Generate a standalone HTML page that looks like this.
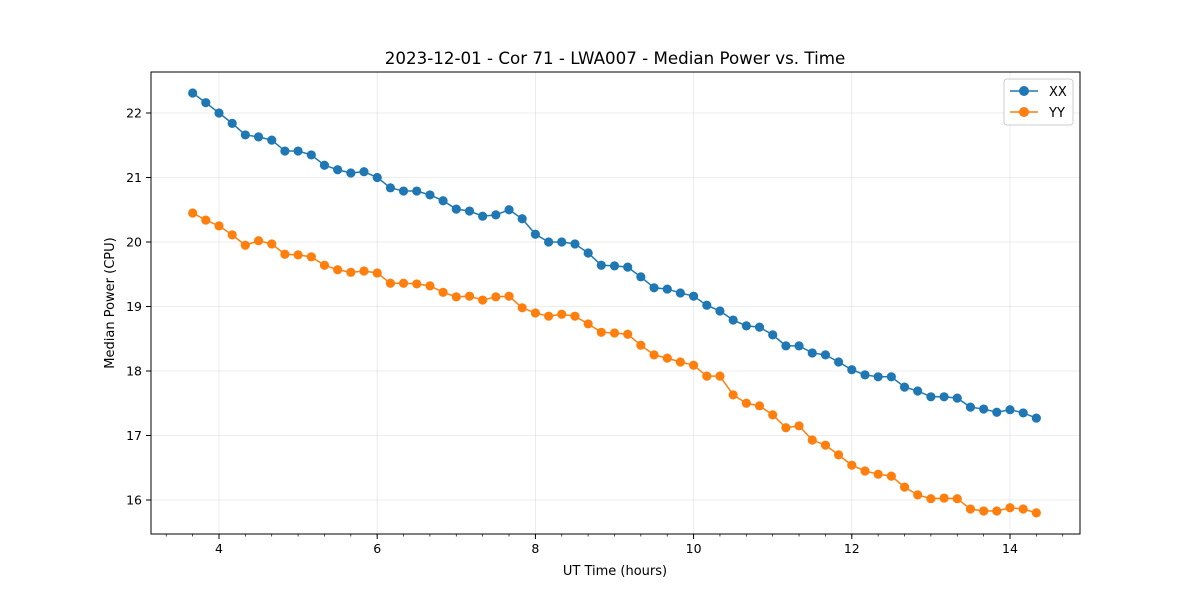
<!DOCTYPE html>
<html><head><meta charset="utf-8"><style>
body{margin:0;background:#fff;font-family:"Liberation Sans","DejaVu Sans",sans-serif}
svg text{font-family:"DejaVu Sans","Liberation Sans",sans-serif}
</style></head><body>
<svg id="chart" width="1200" height="600" viewBox="0 0 1200 600" xmlns="http://www.w3.org/2000/svg">
<rect width="1200" height="600" fill="#fff"/>
<g id="grid"></g>
<g id="axes"></g>
<g id="series"></g>
<rect x="151" y="72" width="929" height="462" fill="none" stroke="#000" stroke-width="1"/>
<text x="615" y="64" text-anchor="middle" font-size="16.7">2023-12-01 - Cor 71 - LWA007 - Median Power vs. Time</text>
<text x="615" y="575" text-anchor="middle" font-size="13">UT Time (hours)</text>
<text transform="translate(114,303) rotate(-90)" text-anchor="middle" font-size="13">Median Power (CPU)</text>
<g>
<rect x="1004" y="79" width="69" height="46" rx="3" fill="#fff" stroke="#ccc"/>
<g>
<line x1="1010" y1="91" x2="1038" y2="91" stroke="#1f77b4" stroke-width="1.5"/><circle cx="1024" cy="91" r="5" fill="#1f77b4"/>
<text x="1049" y="96" font-size="13">XX</text></g>
<g>
<line x1="1010" y1="112" x2="1038" y2="112" stroke="#ff7f0e" stroke-width="1.5"/><circle cx="1024" cy="112" r="5" fill="#ff7f0e"/>
<text x="1049" y="117" font-size="13">YY</text></g>
</g>
</svg>
<script>
const times=[3.667,3.833,4.0,4.167,4.333,4.5,4.667,4.833,5.0,5.167,5.333,5.5,5.667,5.833,6.0,6.167,6.333,6.5,6.667,6.833,7.0,7.167,7.333,7.5,7.667,7.833,8.0,8.167,8.333,8.5,8.667,8.833,9.0,9.167,9.333,9.5,9.667,9.833,10.0,10.167,10.333,10.5,10.667,10.833,11.0,11.167,11.333,11.5,11.667,11.833,12.0,12.167,12.333,12.5,12.667,12.833,13.0,13.167,13.333,13.5,13.667,13.833,14.0,14.167,14.333];
const xxValues=[22.31,22.16,22.0,21.84,21.66,21.63,21.58,21.41,21.41,21.35,21.19,21.12,21.07,21.09,21.0,20.84,20.79,20.79,20.73,20.64,20.51,20.48,20.40,20.42,20.50,20.36,20.12,20.0,20.0,19.97,19.83,19.64,19.63,19.61,19.46,19.29,19.27,19.21,19.16,19.02,18.93,18.79,18.70,18.68,18.56,18.39,18.39,18.28,18.25,18.14,18.02,17.94,17.91,17.91,17.75,17.69,17.60,17.60,17.58,17.44,17.41,17.36,17.40,17.35,17.27];
const yyValues=[20.45,20.34,20.25,20.11,19.95,20.02,19.97,19.81,19.80,19.77,19.64,19.57,19.53,19.55,19.52,19.36,19.36,19.35,19.32,19.22,19.15,19.16,19.10,19.15,19.16,18.98,18.90,18.85,18.88,18.85,18.73,18.60,18.59,18.57,18.40,18.25,18.20,18.14,18.09,17.92,17.92,17.63,17.50,17.46,17.32,17.12,17.15,16.93,16.85,16.70,16.54,16.45,16.40,16.37,16.20,16.08,16.02,16.03,16.02,15.86,15.83,15.83,15.88,15.86,15.80];
const xTicks=[4,6,8,10,12,14];
const yTicks=[16,17,18,19,20,21,22];
const NS="http://www.w3.org/2000/svg";
const X0=151,X1=1080,Y0=72,Y1=534;
function xs(v){return 219+(v-4)*79.1;}
function ys(v){return 113+(22-v)*64.5;}
function mk(tag,attrs,parent){const e=document.createElementNS(NS,tag);for(const k in attrs)e.setAttribute(k,attrs[k]);parent.appendChild(e);return e;}
const grid=document.getElementById('grid'),axes=document.getElementById('axes'),series=document.getElementById('series');
xTicks.forEach(t=>{const x=xs(t);
 const g=mk('line',{x1:x,x2:x,y1:Y0,y2:Y1,stroke:'#b0b0b0','stroke-opacity':0.3,'stroke-width':0.8},grid);
 
 
 const tk=mk('line',{x1:x,x2:x,y1:Y1,y2:Y1+5,stroke:'#000'},axes);
 
 
 const tx=mk('text',{x:x,y:Y1+19,'text-anchor':'middle','font-size':12.5},axes);tx.textContent=t;
 
 
});
for(let t=3.333;t<14.9;t+=1/3){const x=xs(t);if(x<X0||x>X1)continue;
 const m=mk('line',{x1:x,x2:x,y1:Y1,y2:Y1+2.5,stroke:'#000','stroke-width':0.7},axes);
 
 
}
yTicks.forEach(t=>{const y=ys(t);
 const g=mk('line',{x1:X0,x2:X1,y1:y,y2:y,stroke:'#b0b0b0','stroke-opacity':0.3,'stroke-width':0.8},grid);
 
 
 const tk=mk('line',{x1:X0-5,x2:X0,y1:y,y2:y,stroke:'#000'},axes);
 
 
 const tx=mk('text',{x:X0-9,y:y+4.5,'text-anchor':'end','font-size':12.5},axes);tx.textContent=t;
 
 
});
function drawSeries(vals,color,name){
 const pts=vals.map((v,i)=>xs(times[i])+','+ys(v)).join(' ');
 const pl=mk('polyline',{points:pts,fill:'none',stroke:color,'stroke-width':1.5},series);
 
 
 vals.forEach((v,i)=>{const c=mk('circle',{cx:xs(times[i]),cy:ys(v),r:4.6,fill:color},series);
  
  
 });
}
drawSeries(xxValues,'#1f77b4','xx');
drawSeries(yyValues,'#ff7f0e','yy');
</script>
</body></html>
